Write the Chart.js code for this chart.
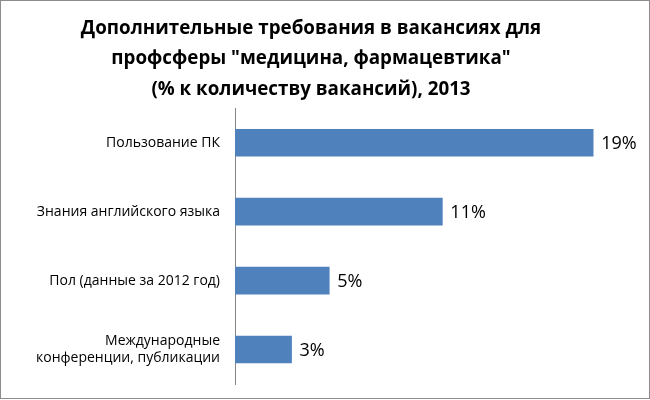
<!DOCTYPE html>
<html>
<head>
<meta charset="utf-8">
<script src="https://cdn.jsdelivr.net/npm/chart.js@4"></script>
<style>
  html, body { margin: 0; padding: 0; background: #fff; }
  #wrap { width: 650px; height: 400px; position: relative; }
</style>
</head>
<body>
<div id="wrap"><canvas id="c" width="650" height="400"></canvas></div>
<script>
const titleLines = ['Дополнительные требования в вакансиях для', 'профсферы "медицина, фармацевтика"', '(% к количеству вакансий), 2013'];
const categories = [
  'Пользование ПК',
  'Знания английского языка',
  'Пол (данные за 2012 год)',
  ['Международные', 'конференции, публикации']
];
const values = [19, 11, 5, 3];
const valueLabels = ['19%', '11%', '5%', '3%'];

const FONT = "'Open Sans', 'Noto Sans', sans-serif";

const frame = {
  id: 'frame',
  beforeDraw(chart) {
    const ctx = chart.ctx;
    ctx.save();
    ctx.fillStyle = '#fff';
    ctx.fillRect(0, 0, chart.width, chart.height);
    ctx.restore();
  },
  afterDraw(chart) {
    const ctx = chart.ctx;
    ctx.save();
    ctx.strokeStyle = '#8c8c8c';
    ctx.lineWidth = 1;
    ctx.strokeRect(0.5, 0.5, chart.width - 1, chart.height - 2);
    ctx.restore();
  }
};

const barLabels = {
  id: 'barLabels',
  afterDatasetsDraw(chart) {
    const ctx = chart.ctx;
    const meta = chart.getDatasetMeta(0);
    ctx.save();
    ctx.font = '18px ' + FONT;
    ctx.fillStyle = '#000';
    ctx.textAlign = 'left';
    ctx.textBaseline = 'middle';
    meta.data.forEach((bar, i) => {
      ctx.fillText(valueLabels[i], bar.x + 8, bar.y + 1);
    });
    ctx.restore();
  }
};

new Chart(document.getElementById('c'), {
  type: 'bar',
  data: {
    labels: categories,
    datasets: [{
      data: values,
      backgroundColor: '#4F81BD',
      borderWidth: 0,
      barThickness: 27
    }]
  },
  options: {
    indexAxis: 'y',
    responsive: false,
    animation: false,
    layout: { padding: { top: 14, bottom: 16, left: 10, right: 38 } },
    plugins: {
      legend: { display: false },
      tooltip: { enabled: false },
      title: {
        display: true,
        text: titleLines,
        color: '#000',
        font: { family: FONT, size: 18.8, weight: 'bold', lineHeight: 1.6 },
        padding: { top: 0, bottom: 4 }
      }
    },
    scales: {
      x: {
        display: false,
        min: 0,
        max: 20
      },
      y: {
        afterFit(scale) {
          scale.width = 225;
          scale.paddingTop = 0;
          scale.paddingBottom = 0;
        },
        grid: { display: false, drawTicks: false },
        border: { display: true, color: '#868686', width: 1 },
        ticks: {
          color: '#000',
          padding: 15,
          font: { family: FONT, size: 14, lineHeight: 1.25 }
        }
      }
    }
  },
  plugins: [frame, barLabels]
});
</script>
</body>
</html>
